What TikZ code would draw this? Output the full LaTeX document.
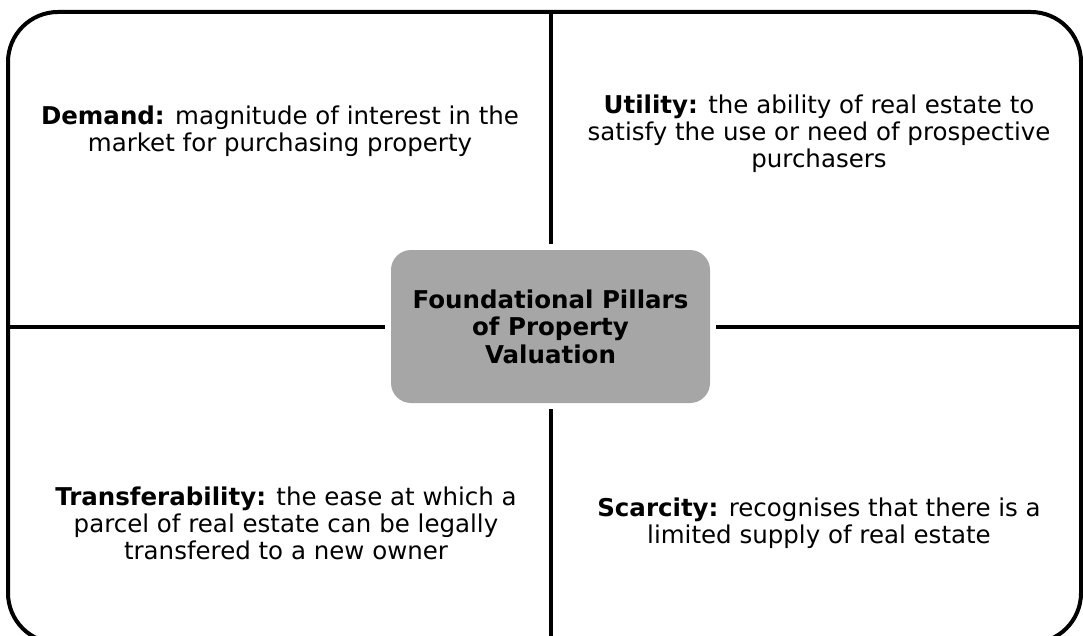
\documentclass[tikz,border=0pt]{standalone}
\usepackage{fontspec}
\setmainfont{DejaVu Sans}
\definecolor{pillargray}{RGB}{166,166,166}
\tikzset{
  framebox/.style={draw=black, line width=4pt, rounded corners=50pt,
    minimum width=1073pt, minimum height=631pt, inner sep=0pt},
  pillarbox/.style={fill=pillargray, rounded corners=20pt, minimum width=319pt,
    minimum height=153pt, inner sep=0pt, outer sep=6pt, align=center,
    font=\fontsize{24.5}{27.5}\selectfont\bfseries},
  quadtext/.style={align=center, inner sep=0pt, font=\fontsize{24.5}{27}\selectfont},
  divider/.style={draw=black, line width=4pt},
}
\begin{document}
\begin{tikzpicture}[x=1pt, y=-1pt]
\useasboundingbox (0,0) rectangle (1083,636);
\node[framebox] (frame) at (544.5,327.5) {};
\node[pillarbox] (pillar) at (550.5,326.5) {Foundational Pillars\\of Property\\Valuation};
\draw[divider] (pillar.north) -- (pillar.north |- frame.north);
\draw[divider] (pillar.south) -- (pillar.south |- frame.south);
\draw[divider] (pillar.west) -- (pillar.west -| frame.west);
\draw[divider] (pillar.east) -- (pillar.east -| frame.east);
\node[quadtext] (demand) at (280,131.5) {\textbf{Demand:} magnitude of interest in the\\market for purchasing property};
\node[quadtext] (utility) at (819,134) {\textbf{Utility:} the ability of real estate to\\satisfy the use or need of prospective\\purchasers};
\node[quadtext] (transfer) at (286,523) {\textbf{Transferability:} the ease at which a\\parcel of real estate can be legally\\transfered to a new owner};
\node[quadtext] (scarcity) at (819,523) {\textbf{Scarcity:} recognises that there is a\\limited supply of real estate};
\end{tikzpicture}
\end{document}
